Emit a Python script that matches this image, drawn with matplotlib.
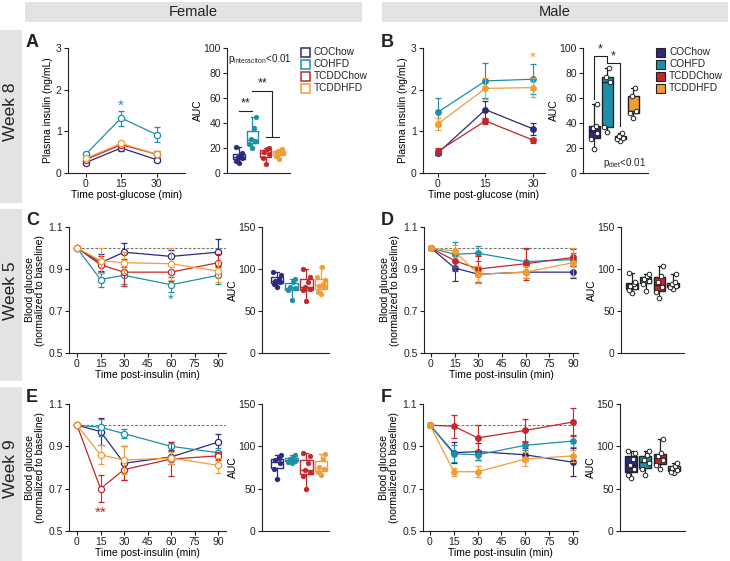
import numpy as np
import matplotlib
matplotlib.use("Agg")
import matplotlib.pyplot as plt
from matplotlib.patches import Rectangle

plt.rcParams['font.family'] = ['Liberation Sans', 'DejaVu Sans']
plt.rcParams['mathtext.fontset'] = 'custom'
plt.rcParams['mathtext.rm'] = 'Liberation Sans'
plt.rcParams['font.size'] = 7

# ---- data ----
groups = ['COChow', 'COHFD', 'TCDDChow', 'TCDDHFD']
t_glc = [0, 15, 30]
t_ins = [0, 15, 30, 60, 90]

# A: female insulin, week 8
a_mean = [[0.25, 0.60, 0.32], [0.45, 1.32, 0.92], [0.32, 0.68, 0.45], [0.35, 0.71, 0.45]]
a_err = [[0.03, 0.08, 0.05], [0.05, 0.18, 0.18], [0.03, 0.05, 0.07], [0.03, 0.05, 0.05]]
a_auc = [[8, 10, 12, 13, 14, 16, 21], [20, 23, 26, 27, 36, 45],
         [7, 12, 15, 17, 19, 20], [11, 14, 16, 17, 18, 19]]

# B: male insulin, week 8
b_mean = [[0.48, 1.52, 1.06], [1.46, 2.21, 2.25], [0.52, 1.25, 0.79], [1.18, 2.03, 2.05]]
b_err = [[0.05, 0.22, 0.15], [0.33, 0.42, 0.36], [0.08, 0.07, 0.06], [0.15, 0.25, 0.22]]
b_auc = [[19, 27, 32, 36, 38, 55], [33, 37, 73, 77, 84],
         [26, 27, 28, 30, 32], [44, 48, 50, 62, 68]]

# C: female ITT, week 5
c_mean = [[1.0, 0.93, 0.98, 0.96, 0.98], [1.0, 0.85, 0.87, 0.825, 0.87],
          [1.0, 0.92, 0.885, 0.885, 0.93], [1.0, 0.94, 0.93, 0.925, 0.89]]
c_err = [[0, 0.04, 0.045, 0.03, 0.065], [0, 0.035, 0.04, 0.035, 0.04],
         [0, 0.04, 0.065, 0.04, 0.04], [0, 0.06, 0.05, 0.075, 0.05]]
c_auc = [[78, 82, 85, 86, 88, 93, 97], [63, 75, 77, 78, 85, 88],
         [62, 75, 76, 78, 85, 91, 100], [70, 73, 78, 80, 82, 87, 91, 102]]

# D: male ITT, week 5
d_mean = [[1.0, 0.905, 0.875, 0.885, 0.885], [1.0, 0.97, 0.975, 0.935, 0.945],
          [1.0, 0.94, 0.90, 0.925, 0.955], [1.0, 0.985, 0.875, 0.885, 0.93]]
d_err = [[0, 0.06, 0.04, 0.03, 0.03], [0, 0.06, 0.035, 0.06, 0.03],
         [0, 0.05, 0.06, 0.075, 0.04], [0, 0.03, 0.04, 0.03, 0.07]]
d_auc = [[71, 75, 78, 80, 82, 84, 95], [74, 82, 86, 88, 92, 94],
         [65, 73, 78, 84, 92, 104], [76, 78, 80, 82, 84, 94]]

# E: female ITT, week 9
e_mean = [[1.0, 0.97, 0.82, 0.85, 0.92], [1.0, 0.99, 0.96, 0.90, 0.87],
          [1.0, 0.70, 0.79, 0.84, 0.855], [1.0, 0.86, 0.835, 0.845, 0.81]]
e_err = [[0, 0.065, 0.08, 0.035, 0.04], [0, 0.04, 0.02, 0.02, 0.02],
         [0, 0.065, 0.05, 0.08, 0.02], [0, 0.045, 0.065, 0.03, 0.035]]
e_auc = [[62, 73, 80, 84, 86, 90], [80, 82, 83, 85, 87, 90],
         [50, 65, 70, 72, 80, 88, 92], [66, 70, 73, 76, 85, 91]]

# F: male ITT, week 9
f_mean = [[1.0, 0.87, 0.875, 0.86, 0.825], [1.0, 0.865, 0.86, 0.905, 0.925],
          [1.0, 0.995, 0.94, 0.975, 1.015], [1.0, 0.78, 0.78, 0.84, 0.855]]
f_err = [[0, 0.05, 0.04, 0.03, 0.065], [0, 0.04, 0.025, 0.02, 0.03],
         [0, 0.055, 0.06, 0.055, 0.065], [0, 0.02, 0.025, 0.035, 0.03]]
f_auc = [[63, 66, 73, 78, 85, 92, 94], [66, 73, 80, 84, 90, 95],
         [73, 78, 84, 88, 92, 109], [68, 70, 72, 75, 77, 80]]

colors = ['#2b2a7c', '#1e8fa8', '#c1272d', '#f39c35']
lw = 0.8
dark = '#222222'

W, H = 730, 561
fig = plt.figure(figsize=(W / 100, H / 100), dpi=100)


def rect(l, t, r, b):
    return [l / W, 1 - b / H, (r - l) / W, (b - t) / H]


def style(ax):
    for s in ['top', 'right']:
        ax.spines[s].set_visible(False)
    for s in ['left', 'bottom']:
        ax.spines[s].set_linewidth(lw)
        ax.spines[s].set_color(dark)
    ax.tick_params(direction='out', length=3, width=lw, pad=1.5, labelsize=7.5, colors=dark)


def line_panel(ax, x, means, errs, filled, ylim, yticks, xlim, xticks, xlabel, ylabel):
    style(ax)
    for i in range(4):
        c = colors[i]
        ax.errorbar(x, means[i], yerr=errs[i], color=c, lw=0.9, elinewidth=0.8,
                    capsize=2, capthick=0.8, marker='o', ms=4 if filled else 4.5,
                    mfc=c if filled else 'white', mec=c, mew=0.9, zorder=3 + i)
    ax.set_xlim(xlim)
    ax.set_ylim(ylim)
    ax.set_yticks(yticks)
    ax.set_xticks(xticks)
    ax.set_xlabel(xlabel, fontsize=7.5, labelpad=0.5)
    ax.set_ylabel(ylabel, fontsize=7.5, labelpad=2, linespacing=1.1)


jit = [0, -0.22, 0.22, -0.11, 0.12, 0.25, -0.25, 0.05]


def auc_panel(ax, data, filled, ylim, yticks, xlim):
    style(ax)
    pos = [1, 2, 3, 4]
    bp = ax.boxplot(data, positions=pos, widths=0.85, whis=(0, 100), patch_artist=True,
                    showfliers=False, manage_ticks=False)
    for i in range(4):
        c = colors[i]
        ec = dark if filled else c
        bp['boxes'][i].set(facecolor=c if filled else 'white', edgecolor=ec, linewidth=1)
        bp['medians'][i].set(color=ec, linewidth=1)
        for w in bp['whiskers'][2 * i:2 * i + 2]:
            w.set(color=ec, linewidth=0.9)
        for cp in bp['caps'][2 * i:2 * i + 2]:
            cp.set(color=ec, linewidth=0.9, xdata=[pos[i] - 0.12, pos[i] + 0.12])
        vals = sorted(data[i])
        xs = [pos[i] + jit[k % len(jit)] for k in range(len(vals))]
        if filled:
            ax.plot(xs, vals, 'o', ms=3.3, mfc='white', mec=dark, mew=0.7, zorder=5)
        else:
            ax.plot(xs, vals, 'o', ms=3.3, mfc=c, mec=c, mew=0.5, zorder=5)
    ax.set_xlim(xlim)
    ax.set_ylim(ylim)
    ax.set_yticks(yticks)
    ax.set_xticks([])
    ax.set_ylabel('AUC', fontsize=7.5, labelpad=0.5)


# ---- grey bands ----
band = '#e3e3e3'
fig.add_artist(Rectangle((25 / W, 1 - 22 / H), (362 - 25) / W, 20 / H, transform=fig.transFigure,
                         facecolor=band, edgecolor='none', zorder=0))
fig.add_artist(Rectangle((382 / W, 1 - 22 / H), (728 - 382) / W, 20 / H, transform=fig.transFigure,
                         facecolor=band, edgecolor='none', zorder=0))
fig.text(193 / W, 1 - 12.5 / H, 'Female', ha='center', va='center', fontsize=10.5, color=dark)
fig.text(555 / W, 1 - 12.5 / H, 'Male', ha='center', va='center', fontsize=10.5, color=dark)
for (t, b, lab) in [(30, 203, 'Week 8'), (209, 381, 'Week 5'), (387, 561, 'Week 9')]:
    fig.add_artist(Rectangle((0, 1 - b / H), 22 / W, (b - t) / H, transform=fig.transFigure,
                             facecolor=band, edgecolor='none', zorder=0))
    fig.text(11 / W, 1 - (t + 82) / H, lab, ha='center', va='center', rotation=90,
             fontsize=12.5, color=dark)

for lab, x, y in [('A', 26, 47), ('B', 381, 47), ('C', 26, 225), ('D', 381, 225),
                  ('E', 26, 402), ('F', 381, 402)]:
    fig.text(x / W, 1 - y / H, lab, fontsize=13, fontweight='bold', color=dark, va='baseline')

# ---- A ----
ax = fig.add_axes(rect(68, 48, 185, 173))
line_panel(ax, t_glc, a_mean, a_err, False, (0, 3), [0, 1, 2, 3], (-7.5, 42), [0, 15, 30],
           'Time post-glucose (min)', 'Plasma insulin (ng/mL)')
ax.text(15, 1.62, '*', color=colors[1], ha='center', va='center', fontsize=11)

ax = fig.add_axes(rect(227, 48, 290, 173))
auc_panel(ax, a_auc, False, (0, 100), [0, 20, 40, 60, 80, 100], (0.1, 4.83))
ax.text(0.2, 91, r'p$_{\rm interaction}$<0.01', fontsize=7, va='center', color=dark)
ax.plot([1, 2], [50, 50], color=dark, lw=0.8)
ax.text(1.5, 51, '**', ha='center', va='bottom', fontsize=9, color=dark)
ax.plot([2, 3.5, 3.5], [65.5, 65.5, 29], color=dark, lw=0.8)
ax.plot([3, 4], [29, 29], color=dark, lw=0.8)
ax.text(2.75, 66.5, '**', ha='center', va='bottom', fontsize=9, color=dark)

# ---- B ----
ax = fig.add_axes(rect(423, 48, 545, 173))
line_panel(ax, t_glc, b_mean, b_err, True, (0, 3), [0, 1, 2, 3], (-4.7, 33.8), [0, 15, 30],
           'Time post-glucose (min)', 'Plasma insulin (ng/mL)')
ax.text(30, 2.76, '*', color=colors[3], ha='center', va='center', fontsize=11)

ax = fig.add_axes(rect(583, 48, 648, 173))
auc_panel(ax, b_auc, True, (0, 100), [0, 20, 40, 60, 80, 100], (0.15, 5.15))
ax.plot([1, 1, 2, 2], [59, 93.5, 93.5, 88], color=dark, lw=0.8)
ax.text(1.5, 94, '*', ha='center', va='bottom', fontsize=9, color=dark)
ax.plot([2, 3, 3], [88, 88, 38], color=dark, lw=0.8)
ax.text(2.5, 88.5, '*', ha='center', va='bottom', fontsize=9, color=dark)
ax.text(1.7, 2, r'p$_{\rm diet}$<0.01', fontsize=7, va='bottom', color=dark)

# legends
for k, (g, c) in enumerate(zip(groups, colors)):
    yc = 52 + k * 12
    fig.add_artist(Rectangle((301 / W, 1 - (yc + 4.5) / H), 9 / W, 9 / H, transform=fig.transFigure,
                             facecolor='white', edgecolor=c, linewidth=1.1))
    fig.text(314 / W, 1 - yc / H, g, fontsize=7.3, va='center', color=dark)
    fig.add_artist(Rectangle((656 / W, 1 - (yc + 4.5) / H), 9 / W, 9 / H, transform=fig.transFigure,
                             facecolor=c, edgecolor=dark, linewidth=0.8))
    fig.text(669 / W, 1 - yc / H, g, fontsize=7.3, va='center', color=dark)

# ---- C-F ----
itt_ticks = [0, 15, 30, 45, 60, 75, 90]
gl_ticks = [0.5, 0.7, 0.9, 1.1]
gl_label = 'Blood glucose\n(normalized to baseline)'
itt_label = 'Time post-insulin (min)'

panels = [
    (c_mean, c_err, c_auc, False, (69, 227, 226, 353), (262, 227, 329, 353), (-5.1, 95), (-0.02, 4.55)),
    (d_mean, d_err, d_auc, True, (424, 227, 578, 353), (621, 227, 684, 353), (-4.4, 93.2), (0.2, 4.8)),
    (e_mean, e_err, e_auc, False, (69, 404, 226, 531), (262, 404, 329, 531), (-5.1, 95), (-0.02, 4.55)),
    (f_mean, f_err, f_auc, True, (423, 404, 578, 531), (620, 404, 685, 531), (-4.4, 93.2), (0.2, 4.8)),
]
line_axes = []
for m, e, auc, filled, r1, r2, xl1, xl2 in panels:
    ax = fig.add_axes(rect(*r1))
    ax.plot([0, xl1[1]], [1, 1], ls=(0, (2.5, 1.5)), color='#777777', lw=0.8, zorder=1)
    line_panel(ax, t_ins, m, e, filled, (0.5, 1.1), gl_ticks, xl1, itt_ticks, itt_label, gl_label)
    ax.set_yticklabels(['0.5', '0.7', '0.9', '1.1'])
    line_axes.append(ax)
    ax2 = fig.add_axes(rect(*r2))
    auc_panel(ax2, auc, filled, (0, 150), [0, 50, 100, 150], xl2)

line_axes[0].text(60, 0.752, '*', color=colors[1], ha='center', va='center', fontsize=11)
line_axes[2].text(15, 0.585, '**', color=colors[2], ha='center', va='center', fontsize=11)

fig.savefig('out.png', dpi=100)
